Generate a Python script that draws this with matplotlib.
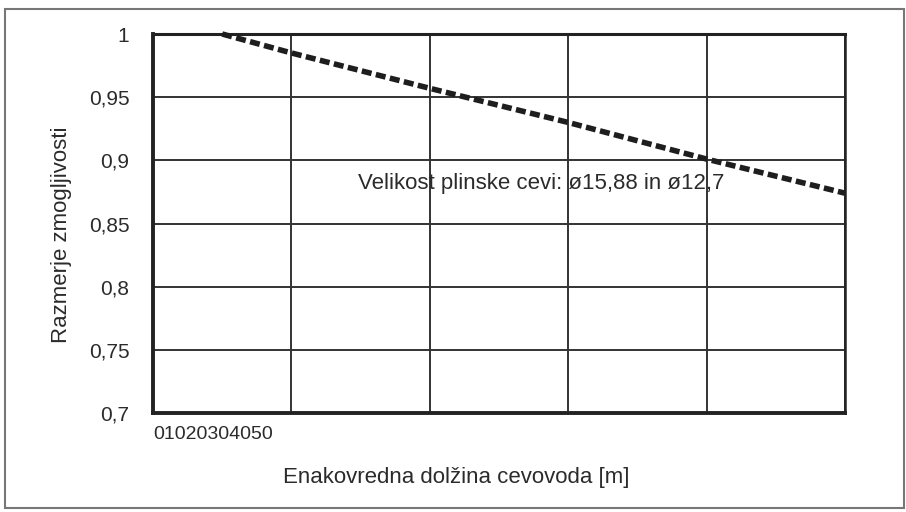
import matplotlib
matplotlib.use("Agg")
import matplotlib.pyplot as plt
from matplotlib.patches import Rectangle
from matplotlib.transforms import blended_transform_factory

# Data
x_vals = [5, 10, 20, 30, 40, 50]
y_vals = [1.0, 0.985, 0.957, 0.930, 0.901, 0.874]
x_ticks = [0, 10, 20, 30, 40, 50]
x_tick_labels = ["0", "10", "20", "30", "40", "50"]
y_ticks = [0.7, 0.75, 0.8, 0.85, 0.9, 0.95, 1.0]
y_tick_labels = ["0,7", "0,75", "0,8", "0,85", "0,9", "0,95", "1"]
annotation = "Velikost plinske cevi: ø15,88 in ø12,7"
x_label = "Enakovredna dolžina cevovoda [m]"
y_label = "Razmerje zmogljivosti"

plt.rcParams['font.family'] = ['Liberation Sans', 'DejaVu Sans']
txt_color = '#2b2b2b'
W, H = 906, 512
fig = plt.figure(figsize=(W / 100, H / 100), dpi=100)
fig.patch.set_facecolor('white')

ax = fig.add_axes([153 / W, 1 - 413 / H, (845 - 153) / W, (413 - 34) / H])
ax.set_xlim(0, 50)
ax.set_ylim(0.7, 1.0)

ax.plot(x_vals, y_vals, color='#1e1e1e', lw=4.0, linestyle=(0, (1.8, 0.8)),
        solid_capstyle='butt', dash_capstyle='butt', zorder=3, clip_on=False)

ax.set_xticks(x_ticks)
ax.set_xticklabels([])
ax.set_yticks(y_ticks)
ax.set_yticklabels(y_tick_labels)
ax.tick_params(axis='both', length=0)
ax.tick_params(axis='y', pad=17, labelsize=15, labelcolor=txt_color)
ax.grid(True, color='#333333', lw=1.4)
ax.set_axisbelow(True)

for side, lw in [('left', 2.8), ('bottom', 2.8), ('top', 2.2), ('right', 1.8)]:
    ax.spines[side].set_linewidth(lw)
    ax.spines[side].set_color('#222222')

trans = blended_transform_factory(ax.transData, ax.transAxes)
ax.text(x_ticks[0], -0.058, "".join(x_tick_labels), transform=trans,
        ha='left', va='center', fontsize=14, color=txt_color)

ax.text(14.8, 0.882, annotation, ha='left', va='center', fontsize=16,
        color=txt_color, zorder=4)

fig.text(61 / W, 1 - 235 / H, y_label, rotation=90, ha='center', va='center',
         fontsize=16, color=txt_color)
fig.text(456 / W, 1 - 478 / H, x_label, ha='center', va='center',
         fontsize=16, color=txt_color)

fig.patches.append(Rectangle((5 / W, 1 - 508 / H), 899 / W, 499 / H,
                             transform=fig.transFigure, fill=False,
                             edgecolor='#777777', lw=1.5))

fig.savefig("out.png", dpi=100, facecolor='white')
